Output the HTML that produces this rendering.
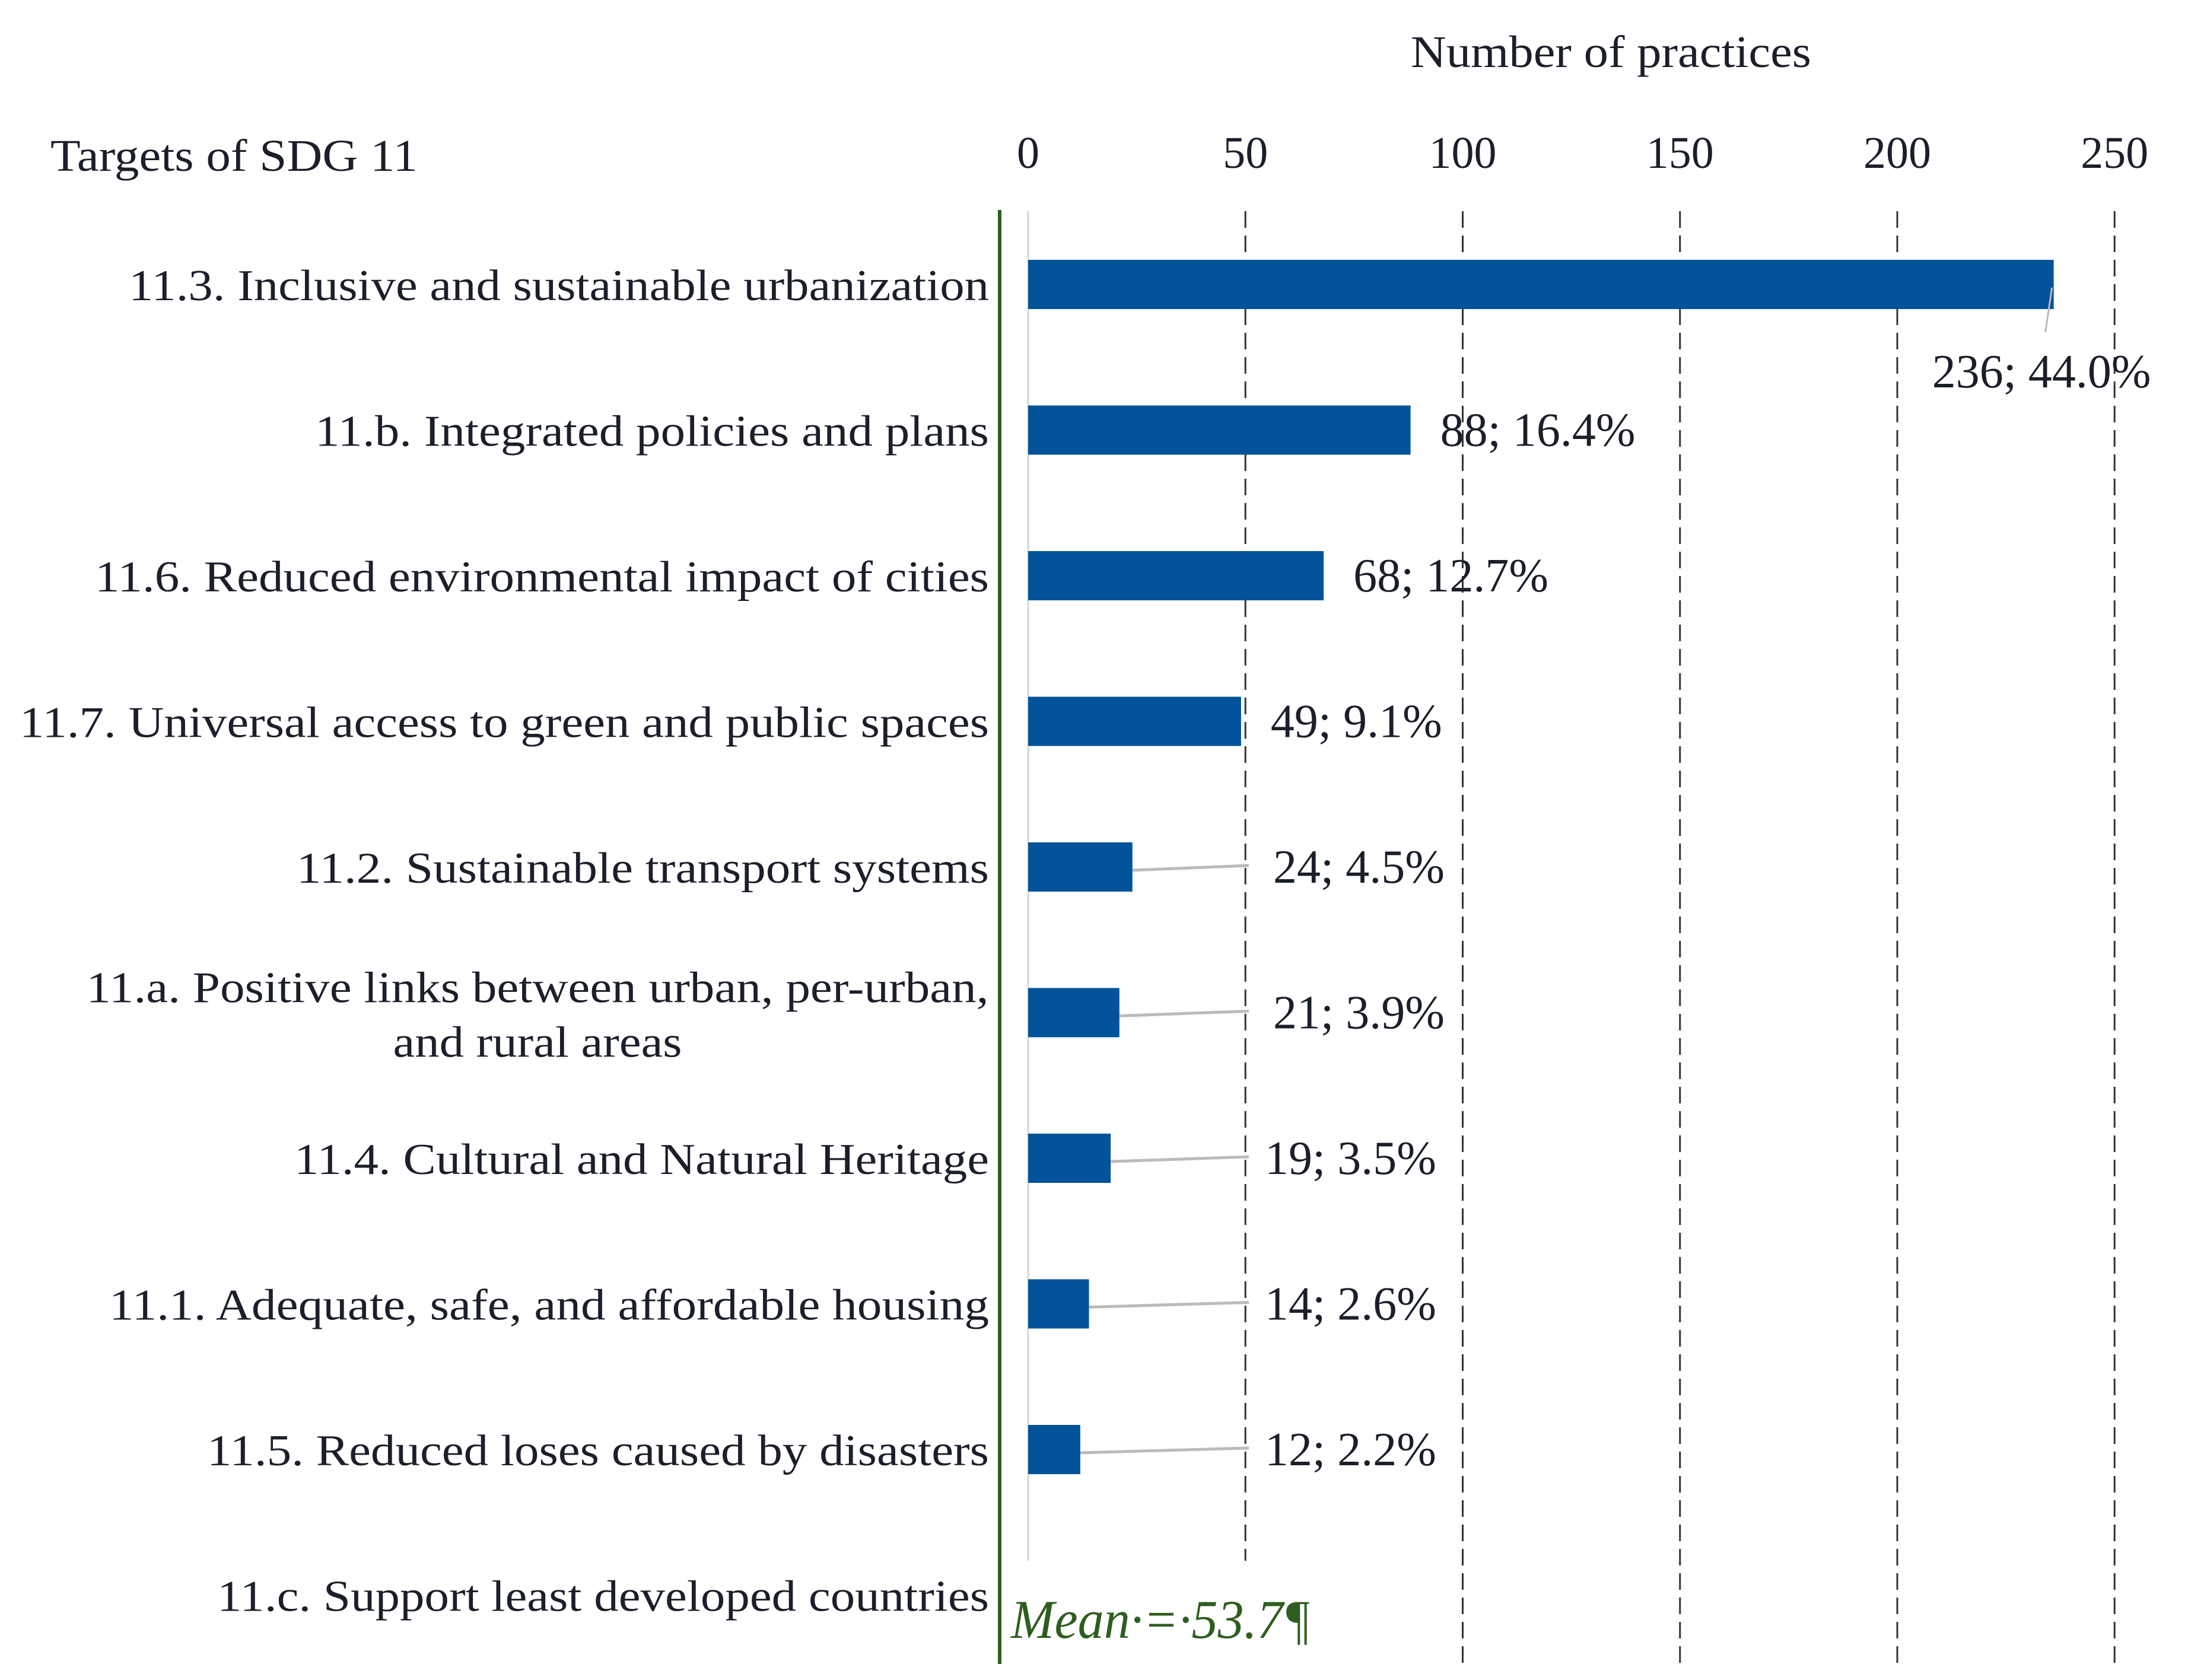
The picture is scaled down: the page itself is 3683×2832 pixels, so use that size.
<!DOCTYPE html>
<html><head><meta charset="utf-8"><style>
html,body{margin:0;padding:0;background:#fff;}
svg{display:block;}
text{font-family:"Liberation Serif",serif;fill:#1a1f2a;}
</style></head><body>
<svg id="chart" width="3683" height="2832" viewBox="0 0 3683 2832" xmlns="http://www.w3.org/2000/svg">
<text x="2378" y="113" font-size="76" textLength="675" lengthAdjust="spacingAndGlyphs">Number of practices</text>
<text x="85" y="288" font-size="76" textLength="619" lengthAdjust="spacingAndGlyphs">Targets of SDG 11</text>
<g id="grid"></g>
<line x1="1733" y1="356" x2="1733" y2="2631" stroke="#d4d4d4" stroke-width="3"/>
<line x1="1685" y1="354" x2="1685" y2="2805" stroke="#2e5e1f" stroke-width="6"/>
<g id="bars"></g>
<text x="1704" y="2761" font-size="92" font-style="italic" style="fill:#2e5e1f" textLength="505" lengthAdjust="spacingAndGlyphs">Mean·=·53.7¶</text>
</svg>
<script>
const categories = ["11.3. Inclusive and sustainable urbanization","11.b. Integrated policies and plans","11.6. Reduced environmental impact of cities","11.7. Universal access to green and public spaces","11.2. Sustainable transport systems","11.a. Positive links between urban, per-urban,|and rural areas","11.4. Cultural and Natural Heritage","11.1. Adequate, safe, and affordable housing","11.5. Reduced loses caused by disasters","11.c. Support least developed countries"];
const values = [236,88,68,49,24,21,19,14,12,0];
const percents = ["44.0%","16.4%","12.7%","9.1%","4.5%","3.9%","3.5%","2.6%","2.2%",""];
const ticks = [0,50,100,150,200,250];
const labelWidths = [1450,1136,1507,1634,1167,1521,1171,1483,1318,1301];

const NS="http://www.w3.org/2000/svg";
const x0=1733, perUnit=7.325;
const xs=v=>x0+v*perUnit;
const yc=i=>480+i*245.5;
function mk(tag,attrs,parent){const e=document.createElementNS(NS,tag);for(const k in attrs)e.setAttribute(k,attrs[k]);parent.appendChild(e);return e;}
const grid=document.getElementById('grid'), bars=document.getElementById('bars');

ticks.forEach(t=>{
  const tl=mk('text',{x:xs(t),y:283,'font-size':76,'text-anchor':'middle'},grid);
  tl.textContent=t;
  
  
  if(t>0){
    const ln=mk('line',{x1:xs(t),y1:356,x2:xs(t),y2:t===50?2631:2805,stroke:'#333','stroke-width':3,'stroke-dasharray':'28 13'},grid);
    
    
  }
});

categories.forEach((c,i)=>{
  const cy=yc(i);
  const parts=c.split('|');
  if(parts.length===1){
    const t=mk('text',{x:1667,y:cy+26,'font-size':74,'text-anchor':'end',textLength:labelWidths[i],lengthAdjust:'spacingAndGlyphs'},bars);
    t.textContent=c;
    
    
  } else {
    const t1=mk('text',{x:906,y:cy-18,'font-size':74,'text-anchor':'middle',textLength:labelWidths[i],lengthAdjust:'spacingAndGlyphs'},bars);
    t1.textContent=parts[0];
    
    
    const t2=mk('text',{x:906,y:cy+74,'font-size':74,'text-anchor':'middle',textLength:487,lengthAdjust:'spacingAndGlyphs'},bars);
    t2.textContent=parts[1];
    
    
  }
  if(values[i]>0){
    const r=mk('rect',{x:x0,y:cy-42,width:values[i]*perUnit,height:83,fill:'#02539a'},bars);
    
    
    const end=xs(values[i]);
    let lx, ly;
    if(i===0){lx=end-205; ly=cy+173;
      const l=mk('line',{x1:end-3,y1:cy+5,x2:end-14,y2:cy+80,stroke:'#bbb','stroke-width':3},bars);
      
      
    } else if(end+40>2105){lx=end+50; ly=cy+26;}
    else {lx=(i>=6?2132:2146); ly=cy+26;}
    if(i>=4 && i<=8){
      const l=mk('line',{x1:end,y1:cy+5,x2:2105,y2:cy-3,stroke:'#bbb','stroke-width':5},bars);
      
      
    }
    const vl=mk('text',{x:lx,y:ly,'font-size':80},bars);
    vl.textContent=values[i]+'; '+percents[i];
    
    
  }
});
</script>
</body></html>
